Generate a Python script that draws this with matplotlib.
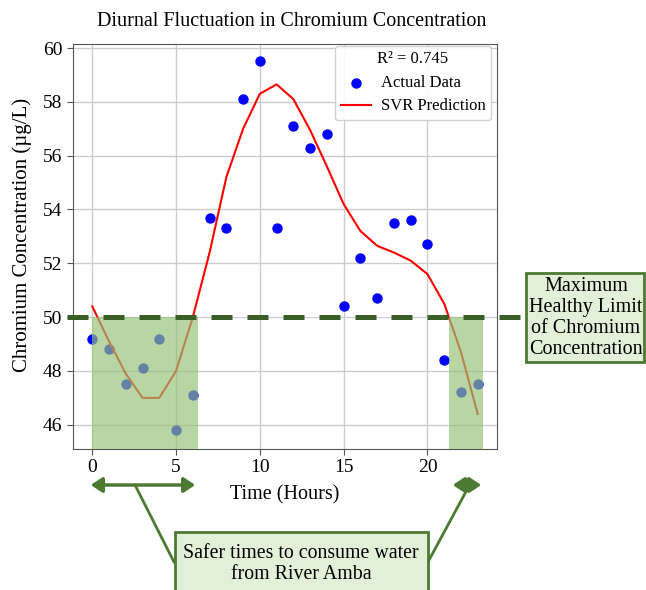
import matplotlib.pyplot as plt
from matplotlib.patches import Rectangle, FancyArrowPatch
import numpy as np

plt.rcParams['font.family'] = ['Liberation Serif', 'DejaVu Serif']

hours = np.arange(24)
actual = [49.2, 48.8, 47.5, 48.1, 49.2, 45.8, 47.1, 53.7, 53.3, 58.1, 59.5, 53.3,
          57.1, 56.3, 56.8, 50.4, 52.2, 50.7, 53.5, 53.6, 52.7, 48.4, 47.2, 47.5]
svr = [50.4, 49.1, 47.9, 47.0, 47.0, 48.0, 50.0, 52.4, 55.2, 57.0, 58.3, 58.65,
       58.1, 56.95, 55.6, 54.2, 53.2, 52.65, 52.4, 52.1, 51.6, 50.5, 48.7, 46.4]
limit = 50
safe_spans = [(0, 6.3), (21.3, 23.3)]
r2_text = 'R² = 0.745'

W, H = 646, 590
def fp(x, y):
    # top-left pixel -> figure fraction
    return (x / W, 1 - y / H)

dark_green = '#3b5e26'
line_green = '#4d7a33'

fig = plt.figure(figsize=(W / 100, H / 100), dpi=100)
ax = fig.add_axes([73 / W, 1 - 449 / H, (497 - 73) / W, (449 - 44) / H])

ax.scatter(hours, actual, color='blue', s=42, zorder=3, label='Actual Data')
ax.plot(hours, svr, color='red', lw=1.5, zorder=3, label='SVR Prediction')
ax.set_ylim(45.1, 60.15)
ax.set_xlim(-1.15, 24.15)

y0 = ax.get_ylim()[0]
for a, b in safe_spans:
    ax.add_patch(Rectangle((a, y0), b - a, limit - y0, facecolor='#96c378',
                           edgecolor='none', alpha=0.67, zorder=4))

ax.plot([-1.5, 25.9], [limit, limit], color=dark_green, lw=3.6,
        linestyle=(0, (4.2, 3.0)), clip_on=False, zorder=5)

ax.set_xticks([0, 5, 10, 15, 20])
ax.set_yticks(np.arange(46, 61, 2))
ax.grid(True, color='#cccccc', lw=1)
ax.set_axisbelow(True)
for s in ax.spines.values():
    s.set_color('#555555')
ax.tick_params(labelsize=14, color='#555555', length=4)
ax.set_title('Diurnal Fluctuation in Chromium Concentration', fontsize=14.5, pad=13,
             x=0.515)
ax.set_xlabel('Time (Hours)', fontsize=14.5, labelpad=6)
ax.set_ylabel('Chromium Concentration (µg/L)', fontsize=15)
ax.yaxis.set_label_coords(-0.097, 0.528)

leg = ax.legend(loc='upper right', title=r2_text, fontsize=12, title_fontsize=12,
                bbox_to_anchor=(0.99, 1.0), borderaxespad=0.1, framealpha=0.9,
                edgecolor='#cccccc', handlelength=1.8, handletextpad=0.6,
                borderpad=0.35, labelspacing=0.45)

# right-hand box
fig.add_artist(Rectangle(fp(526, 362), (644 - 526) / W, (362 - 273) / H,
                         transform=fig.transFigure, facecolor='#e2efd9',
                         edgecolor=line_green, lw=2, zorder=6))
fig.text(*fp(586, 318), 'Maximum\nHealthy Limit\nof Chromium\nConcentration',
         ha='center', va='center', fontsize=14.5, linespacing=1.15, zorder=7)

# arrows below x axis
for x1, x2 in [(88, 198), (450, 484)]:
    fig.add_artist(FancyArrowPatch(
        fp(x1, 485), fp(x2, 485), transform=fig.transFigure,
        arrowstyle='<|-|>,head_length=0.45,head_width=0.3', mutation_scale=15,
        color=line_green, lw=2.5))

fig.add_artist(plt.Line2D([135 / W, 174 / W], [1 - 485 / H, 1 - 562 / H],
                          transform=fig.transFigure, color=line_green, lw=2))
fig.add_artist(plt.Line2D([469 / W, 428 / W], [1 - 486 / H, 1 - 562 / H],
                          transform=fig.transFigure, color=line_green, lw=2))

fig.add_artist(Rectangle(fp(175, 600), (428 - 175) / W, (600 - 532) / H,
                         transform=fig.transFigure, facecolor='#e2efd9',
                         edgecolor=line_green, lw=2, zorder=6))
fig.text(*fp(301, 564), 'Safer times to consume water\nfrom River Amba',
         ha='center', va='center', fontsize=14.3, linespacing=1.15, zorder=7)

fig.savefig('out.png', dpi=100)
